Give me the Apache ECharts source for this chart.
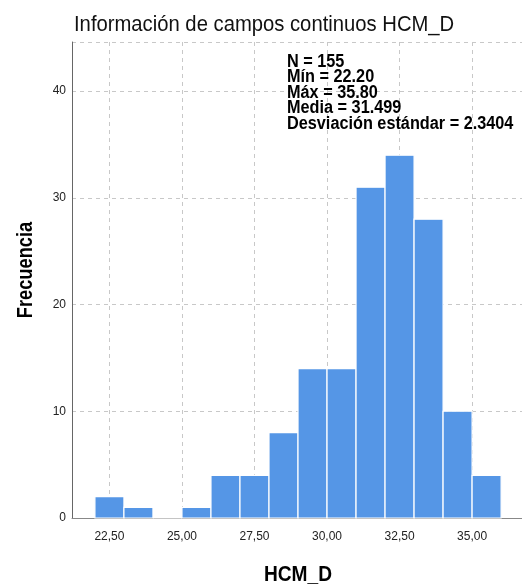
<!DOCTYPE html>
<html>
<head>
<meta charset="utf-8">
<script src="https://cdn.jsdelivr.net/npm/echarts@6/dist/echarts.min.js"></script>
<style>html,body{margin:0;padding:0;background:#fff;}#c{width:522px;height:586px;}</style>
</head>
<body>
<div id="c"></div>
<script>
const binStarts = [22, 23, 24, 25, 26, 27, 28, 29, 30, 31, 32, 33, 34, 35];
const binEnds   = [23, 24, 25, 26, 27, 28, 29, 30, 31, 32, 33, 34, 35, 36];
const counts    = [2, 1, 0, 1, 4, 4, 8, 14, 14, 31, 34, 28, 10, 4];
const xTicks = [22.5, 25, 27.5, 30, 32.5, 35];
const titleText = 'Información de campos continuos HCM_D';
const xName = 'HCM_D';
const yName = 'Frecuencia';
const statsLines = ['N = 155', 'Mín = 22.20', 'Máx = 35.80', 'Media = 31.499', 'Desviación estándar = 2.3404'];

const data = binStarts.map((s, i) => [s, binEnds[i], counts[i]]);
const FF = '"Liberation Sans", Arial, sans-serif';
const chart = echarts.init(document.getElementById('c'));
chart.setOption({
  animation: false,
  grid: { left: 72, top: 42, right: 0, bottom: 68 },
  xAxis: {
    type: 'value', min: 21.21, max: 36.72,
    axisLine: { show: true, lineStyle: { color: '#888', width: 1 } },
    axisTick: { show: false, customValues: xTicks },
    axisLabel: { customValues: xTicks, color: '#222', fontFamily: FF, fontSize: 12, margin: 13,
      formatter: v => v.toFixed(2).replace('.', ',') },
    splitLine: { show: true, lineStyle: { color: '#c8c8c8', type: [4, 4], width: 1 } }
  },
  yAxis: {
    type: 'value', min: 0, max: 44.6, interval: 10,
    axisLine: { show: true, lineStyle: { color: '#666', width: 1 } },
    axisTick: { show: false },
    axisLabel: { color: '#222', fontFamily: FF, fontSize: 12, margin: 6,
      formatter: v => (v % 10 === 0 ? String(v) : '') },
    splitLine: { show: true, lineStyle: { color: '#c8c8c8', type: [4, 4], width: 1 } }
  },
  graphic: [
    {
      type: 'text', x: 74, y: 25, scaleX: 0.92, z: 10,
      style: { text: titleText, font: 'normal 22px ' + FF, fill: '#111', verticalAlign: 'middle', align: 'left' }
    },
    {
      type: 'text', x: 298, y: 575, scaleX: 0.87, z: 10,
      style: { text: xName, font: 'bold 22px ' + FF, fill: '#000', verticalAlign: 'middle', align: 'center' }
    },
    {
      type: 'text', x: 25.5, y: 270, rotation: Math.PI / 2, scaleX: 0.83, z: 10,
      style: { text: yName, font: 'bold 22px ' + FF, fill: '#000', verticalAlign: 'middle', align: 'center' }
    },
    {
      type: 'text', x: 287, y: 54, scaleX: 0.87, z: 10,
      style: {
        text: statsLines.join('\n'),
        font: 'bold 18.7px ' + FF,
        lineHeight: 15.5, fill: '#000', verticalAlign: 'top', align: 'left'
      }
    }
  ],
  series: [{
    type: 'custom',
    data: data,
    encode: { x: [0, 1], y: 2 },
    renderItem: function (params, api) {
      const p0 = api.coord([api.value(0), api.value(2)]);
      const p1 = api.coord([api.value(1), 0]);
      return {
        type: 'rect',
        shape: { x: p0[0], y: p0[1], width: p1[0] - p0[0], height: p1[1] - p0[1] },
        style: { fill: '#5596e6', stroke: '#ffffff', lineWidth: 1.2 }
      };
    }
  }]
});
</script>
</body>
</html>
